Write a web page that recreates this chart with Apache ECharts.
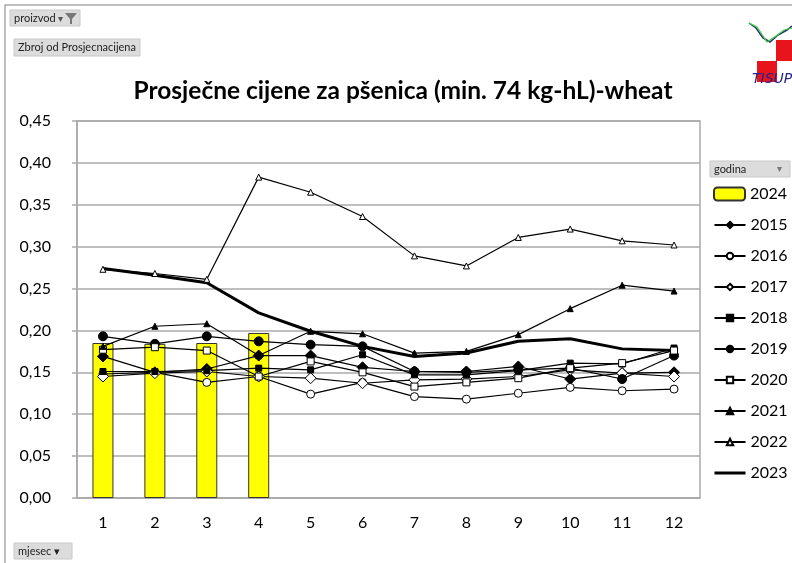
<!DOCTYPE html>
<html>
<head>
<meta charset="utf-8">
<script src="https://cdn.jsdelivr.net/npm/echarts@6/dist/echarts.min.js"></script>
<style>
  html, body { margin: 0; padding: 0; background: #fff; }
  #chart { width: 792px; height: 563px; }
</style>
</head>
<body>
<div id="chart"></div>
<script>
// podaci
const months = ['1', '2', '3', '4', '5', '6', '7', '8', '9', '10', '11', '12'];
const lineYears = ['2015', '2016', '2017', '2018', '2019', '2020', '2021', '2022', '2023'];
const yMin = 0, yMax = 0.45, yStep = 0.05;

const v2024 = [0.185, 0.184, 0.185, 0.197];
const v2015 = [0.169, 0.150, 0.154, 0.170, 0.170, 0.156, 0.151, 0.151, 0.157, 0.142, 0.149, 0.150];
const v2016 = [0.148, 0.150, 0.138, 0.145, 0.124, 0.138, 0.121, 0.118, 0.125, 0.132, 0.128, 0.130];
const v2017 = [0.145, 0.149, 0.151, 0.145, 0.143, 0.137, 0.141, 0.142, 0.145, 0.153, 0.149, 0.145];
const v2018 = [0.151, 0.151, 0.152, 0.155, 0.153, 0.171, 0.147, 0.147, 0.152, 0.161, 0.160, 0.179];
const v2019 = [0.193, 0.184, 0.193, 0.187, 0.183, 0.181, 0.151, 0.150, 0.153, 0.155, 0.142, 0.170];
const v2020 = [0.177, 0.180, 0.176, 0.145, 0.163, 0.150, 0.133, 0.138, 0.143, 0.155, 0.161, 0.176];
const v2021 = [0.181, 0.205, 0.208, 0.170, 0.199, 0.196, 0.173, 0.175, 0.195, 0.226, 0.254, 0.247];
const v2022 = [0.273, 0.268, 0.261, 0.383, 0.365, 0.336, 0.289, 0.277, 0.311, 0.321, 0.307, 0.302];
const v2023 = [0.274, 0.266, 0.257, 0.221, 0.199, 0.181, 0.169, 0.173, 0.187, 0.190, 0.178, 0.176];

const FONT = 'Lato, "Open Sans", sans-serif';

function lineSeries(name, data, symbol, size, fill, width) {
  return {
    name: name,
    type: 'line',
    data: data,
    symbol: symbol,
    symbolSize: size,
    lineStyle: { color: '#000', width: width || 1.2 },
    itemStyle: { color: fill, borderColor: '#000', borderWidth: 1 },
    emphasis: { disabled: true }
  };
}

function button(x, y, w, h, label) {
  return {
    type: 'group', x: x, y: y,
    children: [
      { type: 'rect', shape: { x: 0, y: 0, width: w, height: h },
        style: { fill: '#dcdcdc', stroke: '#c8c8c8' } },
      { type: 'text', x: 4, y: h / 2,
        style: { text: label, fill: '#222', font: '11px ' + FONT, verticalAlign: 'middle' } }
    ]
  };
}

const chart = echarts.init(document.getElementById('chart'));

chart.setOption({
  backgroundColor: '#fff',
  animation: false,
  title: {
    text: 'Prosječne cijene za pšenica (min. 74 kg-hL)-wheat',
    left: 398, top: 74, textAlign: 'center',
    textStyle: { fontFamily: FONT, fontSize: 24.5, fontWeight: 'bold', color: '#000' }
  },
  grid: {
    left: 77, right: 92, top: 121, bottom: 65,
    show: true, borderColor: '#aaa', borderWidth: 1.5
  },
  legend: [
    {
      orient: 'vertical', left: 708, top: 181,
      itemWidth: 31, itemHeight: 13,
      data: ['2024'],
      textStyle: { fontFamily: FONT, fontSize: 16, color: '#000' },
      selectedMode: false
    },
    {
      orient: 'vertical', left: 708, top: 212,
      itemWidth: 31, itemHeight: 8, itemGap: 15,
      data: lineYears.map(y => y === '2023'
        ? { name: y, itemStyle: { opacity: 0 }, lineStyle: { width: 3 } } : y),
      textStyle: { fontFamily: FONT, fontSize: 16, color: '#000' },
      selectedMode: false
    }
  ],
  xAxis: {
    type: 'category',
    data: months,
    axisLine: { lineStyle: { color: '#aaa', width: 1.5 } },
    axisTick: { length: 6, lineStyle: { color: '#aaa', width: 1.5 } },
    axisLabel: { fontFamily: FONT, fontSize: 16, color: '#000', margin: 17 }
  },
  yAxis: {
    type: 'value',
    min: yMin, max: yMax, interval: yStep,
    axisLine: { show: true, lineStyle: { color: '#aaa', width: 1.5 } },
    axisTick: { show: true, length: 5, lineStyle: { color: '#aaa', width: 1.5 } },
    splitLine: { lineStyle: { color: '#aaa', width: 1.5 } },
    axisLabel: {
      fontFamily: FONT, fontSize: 16, color: '#000', margin: 26,
      formatter: v => v.toFixed(2).replace('.', ',')
    }
  },
  series: [
    {
      name: '2024', type: 'bar', data: v2024, barWidth: 21,
      itemStyle: { color: '#ffff00', borderColor: '#333', borderWidth: 1 },
      emphasis: { disabled: true }
    },
    lineSeries('2015', v2015, 'diamond', 11, '#000'),
    lineSeries('2016', v2016, 'circle', 8, '#fff'),
    lineSeries('2017', v2017, 'diamond', 11, '#fff'),
    lineSeries('2018', v2018, 'rect', 6, '#000'),
    lineSeries('2019', v2019, 'circle', 9, '#000'),
    lineSeries('2020', v2020, 'rect', 7, '#fff'),
    lineSeries('2021', v2021, 'triangle', 6, '#000'),
    lineSeries('2022', v2022, 'triangle', 6, '#fff'),
    Object.assign(lineSeries('2023', v2023, 'circle', 0, '#000', 3), { showSymbol: false })
  ],
  graphic: [
    // okvir
    { type: 'polyline', shape: { points: [[792, 5], [5, 5], [5, 563]] },
      style: { stroke: '#aaa', lineWidth: 1.5, fill: null } },
    button(10, 10, 70, 16, 'proizvod'),
    { type: 'text', x: 58, y: 19, style: { text: '▾', fill: '#555', font: '10px ' + FONT, verticalAlign: 'middle' } },
    { type: 'polygon', shape: { points: [[65, 13], [77, 13], [72, 19], [72, 24], [70, 24], [70, 19]] },
      style: { fill: '#777' } },
    button(14, 39, 126, 17, 'Zbroj od Prosjecnacijena'),
    button(710, 161, 80, 16, 'godina'),
    { type: 'text', x: 777, y: 169, style: { text: '▾', fill: '#777', font: '10px ' + FONT, verticalAlign: 'middle' } },
    button(14, 543, 58, 16, 'mjesec ▾'),
    // logo
    { type: 'rect', shape: { x: 776, y: 40, width: 16, height: 21 }, style: { fill: '#e8141c' } },
    { type: 'rect', shape: { x: 757, y: 61, width: 20, height: 21 }, style: { fill: '#e8141c' } },
    { type: 'polyline', shape: { points: [[749, 23], [756, 28], [763, 38], [770, 42], [778, 35], [787, 30], [792, 26]] },
      style: { stroke: '#2a2a7a', lineWidth: 1.5, fill: null } },
    { type: 'polyline', shape: { points: [[749, 23], [757, 27], [767, 42], [776, 36], [784, 30], [792, 28]] },
      style: { stroke: '#38d438', lineWidth: 1.2, fill: null } },
    { type: 'text', x: 752, y: 72, style: { text: 'TISUP', fill: '#23238e', font: 'italic 14px "DejaVu Sans"', letterSpacing: 3 } }
  ]
});
</script>
</body>
</html>
